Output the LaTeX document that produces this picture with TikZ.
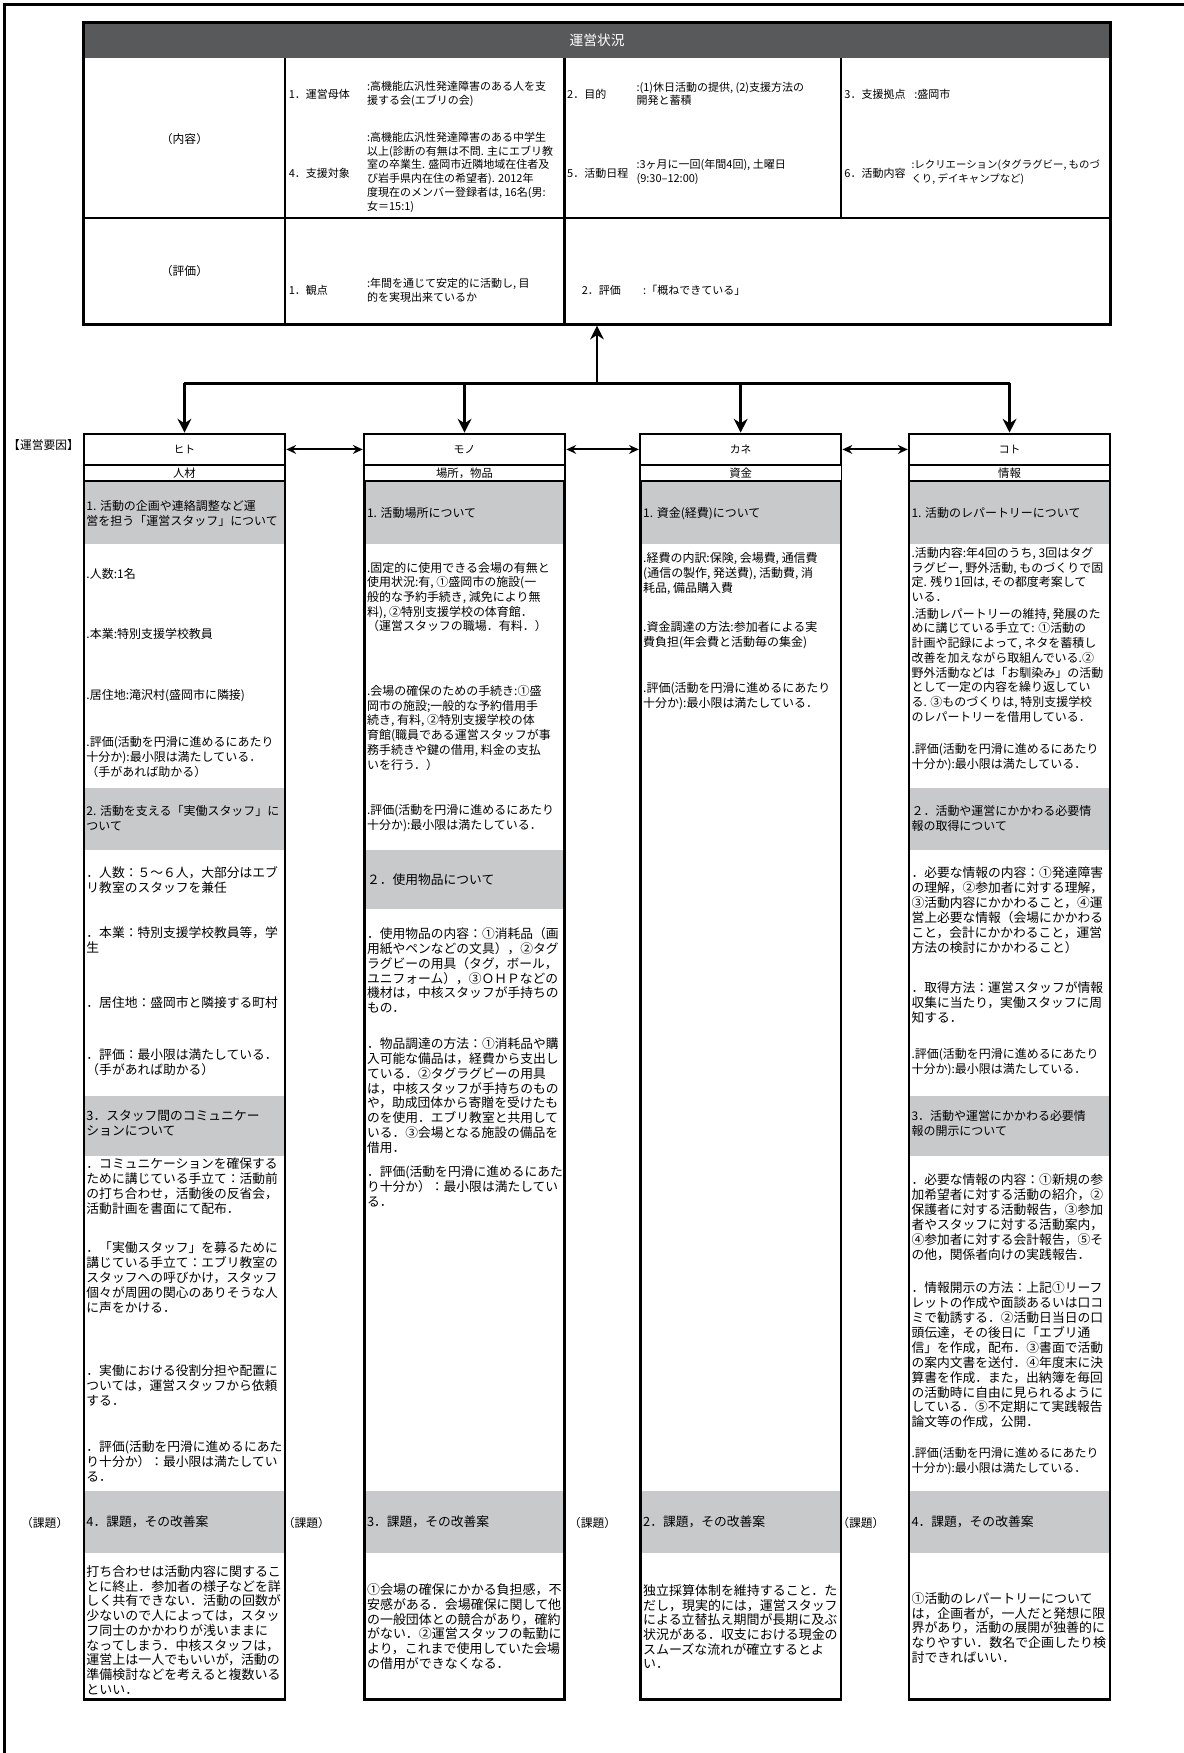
\documentclass[tikz,border=0pt]{standalone}
\usepackage{fontspec}
\setmainfont{Noto Sans CJK JP}
\usetikzlibrary{arrows.meta}
\definecolor{headgrey}{HTML}{58595B}
\definecolor{bandgrey}{HTML}{C8C9CB}

\begin{document}
\begin{tikzpicture}[x=0.02cm, y=-0.02cm,
    txt/.style={anchor=west, align=left, inner sep=0pt, font=\fontsize{6.1}{7.5}\selectfont},
    wtxt/.style={txt, font=\fontsize{6.5}{7.6}\selectfont},
    ktxt/.style={txt, font=\fontsize{6.6}{7.5}\selectfont},
    ttxt/.style={anchor=west, align=left, inner sep=0pt, font=\fontsize{5.6}{7}\selectfont},
    lbl/.style={inner sep=0pt, font=\fontsize{6}{7}\selectfont},
    headbox/.style={draw, line width=1.2pt, minimum width=3.6cm, minimum height=0.56cm, inner sep=0pt, font=\fontsize{5.5}{6}\selectfont},
    subbox/.style={draw, line width=0.7pt, minimum width=3.6cm, minimum height=0.28cm, inner sep=0pt, font=\fontsize{5.8}{6}\selectfont},
    colline/.style={line width=1.2pt},
    downarrow/.style={line width=1.5pt, -{Stealth[length=7pt,width=7pt]}},
    linkarrow/.style={line width=1pt, {Stealth[length=5pt,width=4.5pt]}-{Stealth[length=5pt,width=4.5pt]}}]
    \useasboundingbox (0,0) rectangle (1059,1568);
    % outer frame (left and top only)
    \draw[line width=1.6pt] (4,1568) -- (4,4) -- (1059,4);

    % ---- status box ----
    \fill[headgrey] (75,20) rectangle (993,52);
    \node[white, inner sep=0pt, font=\fontsize{7}{8}\selectfont] (title) at (534,36) {運営状況};
    \draw[line width=1.2pt] (75,195) -- (993,195);
    \draw[line width=1.2pt] (255,52) -- (255,290);
    \draw[line width=1.2pt] (505,52) -- (505,290);
    \draw[line width=1.2pt] (752,52) -- (752,195);
    \node[draw, line width=1.5pt, minimum width=18.36cm, minimum height=5.4cm, inner sep=0pt] (status) at (534,155) {};
    % row labels
    \node[lbl] (naiyou) at (165,124) {（内容）};
    \node[lbl] (hyouka) at (165,242) {（評価）};
    % contents
    \node[ttxt] (bo) at (258,84) {1．運営母体};
    \node[ttxt] (bo-v) at (328,84) {:高機能広汎性発達障害のある人を支\\援する会(エブリの会)};
    \node[ttxt] (mokuteki) at (507,84) {2．目的};
    \node[ttxt] (mokuteki-v) at (569,84) {:(1)休日活動の提供, (2)支援方法の\\開発と蓄積};
    \node[ttxt] (kyoten) at (755,84) {3．支援拠点\hspace{0.8em}:盛岡市};
    \node[ttxt] (taisho) at (258,155) {4．支援対象};
    \node[ttxt] (taisho-v) at (328,154) {:高機能広汎性発達障害のある中学生\\以上(診断の有無は不問. 主にエブリ教\\室の卒業生. 盛岡市近隣地域在住者及\\び岩手県内在住の希望者). 2012年\\度現在のメンバー登録者は, 16名(男:\\女＝15:1)};
    \node[ttxt] (nittei) at (507,155) {5．活動日程};
    \node[ttxt] (nittei-v) at (569,154) {:3ヶ月に一回(年間4回), 土曜日\\(9:30–12:00)};
    \node[ttxt] (katsudo) at (755,155) {6．活動内容};
    \node[ttxt, font=\fontsize{5.3}{7}\selectfont] (katsudo-v) at (815,154) {:レクリエーション(タグラグビー, ものづ\\くり, デイキャンプなど)};
    % evaluation
    \node[ttxt] (kanten) at (258,260) {1．観点};
    \node[ttxt] (kanten-v) at (328,260) {:年間を通じて安定的に活動し, 目\\的を実現出来ているか};
    \node[ttxt] (hyoka) at (520,260) {2．評価};
    \node[ttxt] (hyoka-v) at (575,260) {:「概ねできている」};

    % ---- column frames ----
    \fill[bandgrey] (75,430) rectangle (255,487);
    \fill[bandgrey] (75,705) rectangle (255,760);
    \fill[bandgrey] (75,980) rectangle (255,1034);
    \fill[bandgrey] (75,1334) rectangle (255,1389);
    \fill[bandgrey] (326,430) rectangle (505,487);
    \fill[bandgrey] (326,760) rectangle (505,813);
    \fill[bandgrey] (326,1334) rectangle (505,1389);
    \fill[bandgrey] (573,430) rectangle (752,487);
    \fill[bandgrey] (573,1334) rectangle (752,1389);
    \fill[bandgrey] (813,430) rectangle (993,487);
    \fill[bandgrey] (813,705) rectangle (993,760);
    \fill[bandgrey] (813,980) rectangle (993,1034);
    \fill[bandgrey] (813,1334) rectangle (993,1389);
    \draw[colline] (75,430) rectangle (255,1520);
    \draw[colline] (326,430) rectangle (505,1520);
    \draw[colline] (573,430) rectangle (752,1520);
    \draw[colline] (813,430) rectangle (993,1520);
    % headers
    \node[headbox] (hito) at (165,402) {ヒト};
    \node[headbox] (mono) at (415.5,402) {モノ};
    \node[headbox] (kane) at (662.5,402) {カネ};
    \node[headbox] (koto) at (903,402) {コト};
    \node[subbox] (jinzai) at (165,423) {人材};
    \node[subbox] (basho) at (415.5,423) {場所，物品};
    \node[subbox] (shikin) at (662.5,423) {資金};
    \node[subbox] (joho) at (903,423) {情報};

    % ---- connectors ----
    \coordinate (hub) at (534,343);
    \draw[downarrow] (hub) -- (status.south);
    \draw[line width=1.7pt] (hito.north |- hub) -- (koto.north |- hub);
    \draw[downarrow] (hito.north |- hub) -- (hito.north);
    \draw[downarrow] (mono.north |- hub) -- (mono.north);
    \draw[downarrow] (kane.north |- hub) -- (kane.north);
    \draw[downarrow] (koto.north |- hub) -- (koto.north);
    \draw[linkarrow] (hito.east) -- (mono.west);
    \draw[linkarrow] (mono.east) -- (kane.west);
    \draw[linkarrow] (kane.east) -- (koto.west);

    % side labels
    \node[lbl] (yoin) at (39,398) {【運営要因】};
    \node[lbl] (kadai1) at (40,1362) {（課題）};
    \node[lbl] (kadai2) at (274,1362) {（課題）};
    \node[lbl] (kadai3) at (530,1362) {（課題）};
    \node[lbl] (kadai4) at (770,1362) {（課題）};

    % ---- hito ----
    \node[txt] (hito-g1) at (77,459) {1. 活動の企画や連絡調整など運\\営を担う「運営スタッフ」について};
    \node[txt] (hito-1a) at (77,513) {.人数:1名};
    \node[txt] (hito-1b) at (77,567) {.本業:特別支援学校教員};
    \node[txt] (hito-1c) at (77,622) {.居住地:滝沢村(盛岡市に隣接)};
    \node[txt] (hito-1d) at (77,677) {.評価(活動を円滑に進めるにあたり\\十分か):最小限は満たしている．\\（手があれば助かる）};
    \node[txt] (hito-g2) at (77,732) {2. 活動を支える「実働スタッフ」に\\ついて};
    \node[wtxt] (hito-2a) at (77,787) {．人数：５～６人，大部分はエブ\\リ教室のスタッフを兼任};
    \node[wtxt] (hito-2b) at (77,841) {．本業：特別支援学校教員等，学\\生};
    \node[wtxt] (hito-2c) at (77,897) {．居住地：盛岡市と隣接する町村};
    \node[wtxt] (hito-2d) at (77,950) {．評価：最小限は満たしている．\\（手があれば助かる）};
    \node[wtxt] (hito-g3) at (77,1005) {3．スタッフ間のコミュニケー\\ションについて};
    \node[wtxt] (hito-3a) at (77,1061) {．コミュニケーションを確保する\\ために講じている手立て：活動前\\の打ち合わせ，活動後の反省会，\\活動計画を書面にて配布．};
    \node[wtxt] (hito-3b) at (77,1143) {．「実働スタッフ」を募るために\\講じている手立て：エブリ教室の\\スタッフへの呼びかけ，スタッフ\\個々が周囲の関心のありそうな人\\に声をかける．};
    \node[wtxt] (hito-3c) at (77,1239) {．実働における役割分担や配置に\\ついては，運営スタッフから依頼\\する．};
    \node[wtxt] (hito-3d) at (77,1307) {．評価(活動を円滑に進めるにあた\\り十分か）：最小限は満たしてい\\る．};
    \node[wtxt] (hito-g4) at (77,1361) {4．課題，その改善案};
    \node[ktxt] (hito-4a) at (77,1458) {打ち合わせは活動内容に関するこ\\とに終止．参加者の様子などを詳\\しく共有できない．活動の回数が\\少ないので人によっては，スタッ\\フ同士のかかわりが浅いままに\\なってしまう．中核スタッフは，\\運営上は一人でもいいが，活動の\\準備検討などを考えると複数いる\\といい．};

    % ---- mono ----
    \node[txt] (mono-g1) at (328,459) {1. 活動場所について};
    \node[txt] (mono-1a) at (328,534) {.固定的に使用できる会場の有無と\\使用状況:有, ①盛岡市の施設(一\\般的な予約手続き, 減免により無\\料), ②特別支援学校の体育館．\\（運営スタッフの職場．有料．）};
    \node[txt] (mono-1b) at (328,651) {.会場の確保のための手続き:①盛\\岡市の施設;一般的な予約借用手\\続き, 有料, ②特別支援学校の体\\育館(職員である運営スタッフが事\\務手続きや鍵の借用, 料金の支払\\いを行う．）};
    \node[txt] (mono-1c) at (328,732) {.評価(活動を円滑に進めるにあたり\\十分か):最小限は満たしている．};
    \node[wtxt] (mono-g2) at (328,787) {２．使用物品について};
    \node[wtxt] (mono-2a) at (328,868) {．使用物品の内容：①消耗品（画\\用紙やペンなどの文具），②タグ\\ラグビーの用具（タグ，ボール，\\ユニフォーム），③ＯＨＰなどの\\機材は，中核スタッフが手持ちの\\もの．};
    \node[wtxt] (mono-2b) at (328,980) {．物品調達の方法：①消耗品や購\\入可能な備品は，経費から支出し\\ている．②タグラグビーの用具\\は，中核スタッフが手持ちのもの\\や，助成団体から寄贈を受けたも\\のを使用．エブリ教室と共用して\\いる．③会場となる施設の備品を\\借用．};
    \node[wtxt] (mono-2c) at (328,1061) {．評価(活動を円滑に進めるにあた\\り十分か）：最小限は満たしてい\\る．};
    \node[wtxt] (mono-g3) at (328,1361) {3．課題，その改善案};
    \node[ktxt] (mono-3a) at (328,1455) {①会場の確保にかかる負担感，不\\安感がある．会場確保に関して他\\の一般団体との競合があり，確約\\がない．②運営スタッフの転勤に\\より，これまで使用していた会場\\の借用ができなくなる．};

    % ---- kane ----
    \node[txt] (kane-g1) at (575,459) {1. 資金(経費)について};
    \node[txt] (kane-1a) at (575,513) {.経費の内訳:保険, 会場費, 通信費\\(通信の製作, 発送費), 活動費, 消\\耗品, 備品購入費};
    \node[txt] (kane-1b) at (575,568) {.資金調達の方法:参加者による実\\費負担(年会費と活動毎の集金)};
    \node[txt] (kane-1c) at (575,623) {.評価(活動を円滑に進めるにあたり\\十分か):最小限は満たしている．};
    \node[wtxt] (kane-g2) at (575,1361) {2．課題，その改善案};
    \node[ktxt] (kane-2a) at (575,1455) {独立採算体制を維持すること．た\\だし，現実的には，運営スタッフ\\による立替払え期間が長期に及ぶ\\状況がある．収支における現金の\\スムーズな流れが確立するとよ\\い．};

    % ---- koto ----
    \node[txt] (koto-g1) at (815,459) {1. 活動のレパートリーについて};
    \node[txt] (koto-1a) at (815,514) {.活動内容:年4回のうち, 3回はタグ\\ラグビー, 野外活動, ものづくりで固\\定. 残り1回は, その都度考案して\\いる．};
    \node[txt] (koto-1b) at (815,595) {.活動レパートリーの維持, 発展のた\\めに講じている手立て: ①活動の\\計画や記録によって, ネタを蓄積し\\改善を加えながら取組んでいる.②\\野外活動などは「お馴染み」の活動\\として一定の内容を繰り返してい\\る. ③ものづくりは, 特別支援学校\\のレパートリーを借用している．};
    \node[txt] (koto-1c) at (815,677) {.評価(活動を円滑に進めるにあたり\\十分か):最小限は満たしている．};
    \node[txt] (koto-g2) at (815,732) {２．活動や運営にかかわる必要情\\報の取得について};
    \node[wtxt] (koto-2a) at (815,814) {．必要な情報の内容：①発達障害\\の理解，②参加者に対する理解，\\③活動内容にかかわること，④運\\営上必要な情報（会場にかかわる\\こと，会計にかかわること，運営\\方法の検討にかかわること）};
    \node[wtxt] (koto-2b) at (815,897) {．取得方法：運営スタッフが情報\\収集に当たり，実働スタッフに周\\知する．};
    \node[txt] (koto-2c) at (815,950) {.評価(活動を円滑に進めるにあたり\\十分か):最小限は満たしている．};
    \node[txt] (koto-g3) at (815,1005) {3．活動や運営にかかわる必要情\\報の開示について};
    \node[wtxt] (koto-3a) at (815,1089) {．必要な情報の内容：①新規の参\\加希望者に対する活動の紹介，②\\保護者に対する活動報告，③参加\\者やスタッフに対する活動案内，\\④参加者に対する会計報告，⑤そ\\の他，関係者向けの実践報告．};
    \node[wtxt] (koto-3b) at (815,1212) {．情報開示の方法：上記①リーフ\\レットの作成や面談あるいは口コ\\ミで勧誘する．②活動日当日の口\\頭伝達，その後日に「エブリ通\\信」を作成，配布．③書面で活動\\の案内文書を送付．④年度末に決\\算書を作成．また，出納簿を毎回\\の活動時に自由に見られるように\\している．⑤不定期にて実践報告\\論文等の作成，公開．};
    \node[txt] (koto-3c) at (815,1307) {.評価(活動を円滑に進めるにあたり\\十分か):最小限は満たしている．};
    \node[wtxt] (koto-g4) at (815,1361) {4．課題，その改善案};
    \node[ktxt] (koto-4a) at (815,1456) {①活動のレパートリーについて\\は，企画者が，一人だと発想に限\\界があり，活動の展開が独善的に\\なりやすい．数名で企画したり検\\討できればいい．};
\end{tikzpicture}
\end{document}
